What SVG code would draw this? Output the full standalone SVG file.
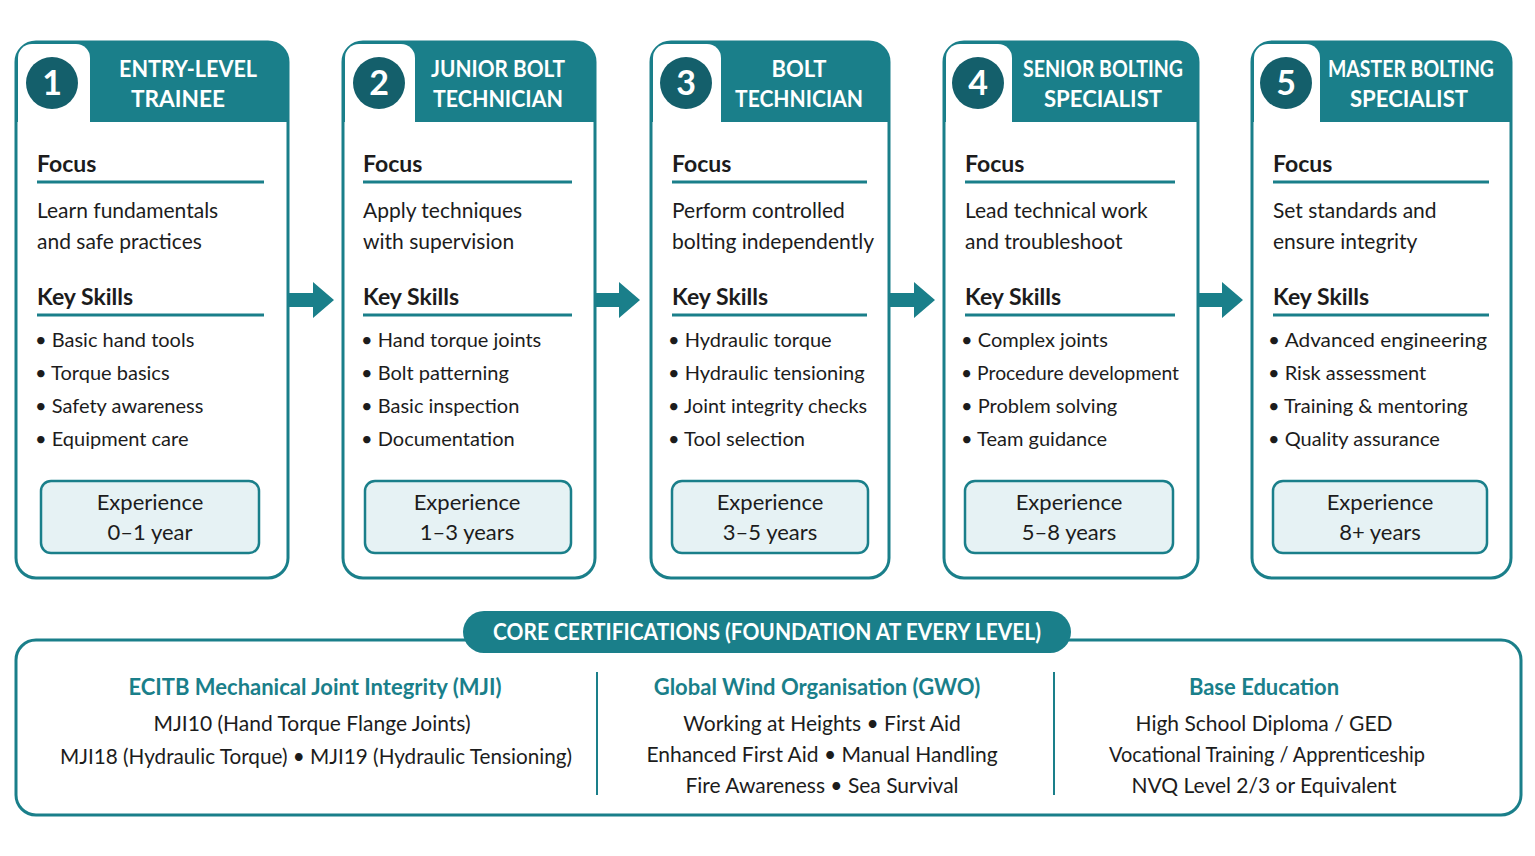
<svg xmlns="http://www.w3.org/2000/svg" width="1535" height="856" viewBox="0 0 1535 856">
<defs>
<style>
text{font-family:Lato,"Noto Sans","Liberation Sans",sans-serif;fill:#1c1c1c}
.card{fill:#fff;stroke:#1a7f8a;stroke-width:3}
.hd{fill:#1a7f8a}
.tab{fill:#fff}
.num{fill:#145f6b}
.numt{fill:#fff;font-size:34px;font-weight:bold;text-anchor:middle}
.ttl{fill:#fff;font-size:22px;font-weight:bold;text-anchor:middle}
.h{font-size:23px;font-weight:bold}
.rule{stroke:#1a7f8a;stroke-width:3}
.t{font-size:21px}
.b{font-size:20px}
.exp{fill:#e6f2f4;stroke:#1a7f8a;stroke-width:2.5}
.et{font-size:22px;text-anchor:middle}
.arr{fill:#1a7f8a}
.ct{fill:#1a7f8a;font-size:22px;font-weight:bold;text-anchor:middle}
.cl{font-size:21px;text-anchor:middle}
</style>
</defs>
<rect width="1535" height="856" fill="#fff"/>

<g id="card1">
<rect class="card" x="16" y="42" width="272" height="536" rx="20"/>
<path class="hd" d="M16,122 V62 a20,20 0 0 1 20,-20 H268 a20,20 0 0 1 20,20 V122 Z"/>
<rect class="tab" x="18" y="44" width="72" height="78" rx="14"/><rect class="tab" x="18" y="100" width="72" height="22"/>
<circle class="num" cx="52" cy="83" r="26"/><text class="numt" x="52" y="95">1</text>
<text class="ttl" x="188" y="77" textLength="138" lengthAdjust="spacingAndGlyphs">ENTRY-LEVEL</text><text class="ttl" x="178" y="107" textLength="94" lengthAdjust="spacingAndGlyphs">TRAINEE</text>
<text class="h" x="37" y="172">Focus</text><line class="rule" x1="37" y1="182" x2="264" y2="182"/>
<text class="t" x="37" y="218">Learn fundamentals</text><text class="t" x="37" y="249">and safe practices</text>
<text class="h" x="37" y="305">Key Skills</text><line class="rule" x1="37" y1="315" x2="264" y2="315"/>
<text class="b" x="35" y="347">•  Basic hand tools</text><text class="b" x="35" y="380">•  Torque basics</text>
<text class="b" x="35" y="413">•  Safety awareness</text><text class="b" x="35" y="446">•  Equipment care</text>
<rect class="exp" x="41" y="481" width="218" height="72" rx="10"/>
<text class="et" x="150" y="510">Experience</text><text class="et" x="150" y="540">0–1 year</text>
</g>

<g id="card2">
<rect class="card" x="343" y="42" width="252" height="536" rx="20"/>
<path class="hd" d="M343,122 V62 a20,20 0 0 1 20,-20 H575 a20,20 0 0 1 20,20 V122 Z"/>
<rect class="tab" x="345" y="44" width="70" height="78" rx="14"/><rect class="tab" x="345" y="100" width="70" height="22"/>
<circle class="num" cx="379" cy="83" r="26"/><text class="numt" x="379" y="95">2</text>
<text class="ttl" x="498" y="77" textLength="134" lengthAdjust="spacingAndGlyphs">JUNIOR BOLT</text><text class="ttl" x="498" y="107" textLength="130" lengthAdjust="spacingAndGlyphs">TECHNICIAN</text>
<text class="h" x="363" y="172">Focus</text><line class="rule" x1="363" y1="182" x2="572" y2="182"/>
<text class="t" x="363" y="218">Apply techniques</text><text class="t" x="363" y="249">with supervision</text>
<text class="h" x="363" y="305">Key Skills</text><line class="rule" x1="363" y1="315" x2="572" y2="315"/>
<text class="b" x="361" y="347">•  Hand torque joints</text><text class="b" x="361" y="380">•  Bolt patterning</text>
<text class="b" x="361" y="413">•  Basic inspection</text><text class="b" x="361" y="446">•  Documentation</text>
<rect class="exp" x="365" y="481" width="206" height="72" rx="10"/>
<text class="et" x="467" y="510">Experience</text><text class="et" x="467" y="540">1–3 years</text>
</g>

<g id="card3">
<rect class="card" x="651" y="42" width="238" height="536" rx="20"/>
<path class="hd" d="M651,122 V62 a20,20 0 0 1 20,-20 H869 a20,20 0 0 1 20,20 V122 Z"/>
<rect class="tab" x="653" y="44" width="68" height="78" rx="14"/><rect class="tab" x="653" y="100" width="68" height="22"/>
<circle class="num" cx="686" cy="83" r="26"/><text class="numt" x="686" y="95">3</text>
<text class="ttl" x="799" y="77">BOLT</text><text class="ttl" x="799" y="107" textLength="128" lengthAdjust="spacingAndGlyphs">TECHNICIAN</text>
<text class="h" x="672" y="172">Focus</text><line class="rule" x1="672" y1="182" x2="867" y2="182"/>
<text class="t" x="672" y="218">Perform controlled</text><text class="t" x="672" y="249" textLength="202" lengthAdjust="spacingAndGlyphs">bolting independently</text>
<text class="h" x="672" y="305">Key Skills</text><line class="rule" x1="672" y1="315" x2="867" y2="315"/>
<text class="b" x="668" y="347">•  Hydraulic torque</text><text class="b" x="668" y="380">•  Hydraulic tensioning</text>
<text class="b" x="668" y="413" textLength="199" lengthAdjust="spacingAndGlyphs">•  Joint integrity checks</text><text class="b" x="668" y="446">•  Tool selection</text>
<rect class="exp" x="672" y="481" width="196" height="72" rx="10"/>
<text class="et" x="770" y="510">Experience</text><text class="et" x="770" y="540">3–5 years</text>
</g>

<g id="card4">
<rect class="card" x="944" y="42" width="254" height="536" rx="20"/>
<path class="hd" d="M944,122 V62 a20,20 0 0 1 20,-20 H1178 a20,20 0 0 1 20,20 V122 Z"/>
<rect class="tab" x="946" y="44" width="66" height="78" rx="14"/><rect class="tab" x="946" y="100" width="66" height="22"/>
<circle class="num" cx="978" cy="83" r="26"/><text class="numt" x="978" y="95">4</text>
<text class="ttl" x="1103" y="77" textLength="160" lengthAdjust="spacingAndGlyphs">SENIOR BOLTING</text><text class="ttl" x="1103" y="107" textLength="118" lengthAdjust="spacingAndGlyphs">SPECIALIST</text>
<text class="h" x="965" y="172">Focus</text><line class="rule" x1="965" y1="182" x2="1175" y2="182"/>
<text class="t" x="965" y="218">Lead technical work</text><text class="t" x="965" y="249">and troubleshoot</text>
<text class="h" x="965" y="305">Key Skills</text><line class="rule" x1="965" y1="315" x2="1175" y2="315"/>
<text class="b" x="961" y="347">•  Complex joints</text><text class="b" x="961" y="380" textLength="218" lengthAdjust="spacingAndGlyphs">•  Procedure development</text>
<text class="b" x="961" y="413">•  Problem solving</text><text class="b" x="961" y="446">•  Team guidance</text>
<rect class="exp" x="965" y="481" width="208" height="72" rx="10"/>
<text class="et" x="1069" y="510">Experience</text><text class="et" x="1069" y="540">5–8 years</text>
</g>

<g id="card5">
<rect class="card" x="1252" y="42" width="259" height="536" rx="20"/>
<path class="hd" d="M1252,122 V62 a20,20 0 0 1 20,-20 H1491 a20,20 0 0 1 20,20 V122 Z"/>
<rect class="tab" x="1254" y="44" width="66" height="78" rx="14"/><rect class="tab" x="1254" y="100" width="66" height="22"/>
<circle class="num" cx="1286" cy="83" r="26"/><text class="numt" x="1286" y="95">5</text>
<text class="ttl" x="1411" y="77" textLength="166" lengthAdjust="spacingAndGlyphs">MASTER BOLTING</text><text class="ttl" x="1409" y="107" textLength="118" lengthAdjust="spacingAndGlyphs">SPECIALIST</text>
<text class="h" x="1273" y="172">Focus</text><line class="rule" x1="1273" y1="182" x2="1489" y2="182"/>
<text class="t" x="1273" y="218">Set standards and</text><text class="t" x="1273" y="249">ensure integrity</text>
<text class="h" x="1273" y="305">Key Skills</text><line class="rule" x1="1273" y1="315" x2="1489" y2="315"/>
<text class="b" x="1268" y="347" textLength="219" lengthAdjust="spacingAndGlyphs">•  Advanced engineering</text><text class="b" x="1268" y="380">•  Risk assessment</text>
<text class="b" x="1268" y="413">•  Training &amp; mentoring</text><text class="b" x="1268" y="446">•  Quality assurance</text>
<rect class="exp" x="1273" y="481" width="214" height="72" rx="10"/>
<text class="et" x="1380" y="510">Experience</text><text class="et" x="1380" y="540">8+ years</text>
</g>

<g id="connectors">
<path class="arr" d="M288,293 H313 V282 L334,300 L313,318 V307 H288 Z"/>
<path class="arr" d="M595,293 H619 V282 L640,300 L619,318 V307 H595 Z"/>
<path class="arr" d="M889,293 H914 V282 L935,300 L914,318 V307 H889 Z"/>
<path class="arr" d="M1198,293 H1222 V282 L1243,300 L1222,318 V307 H1198 Z"/>
</g>

<g id="certifications">
<rect x="16" y="640" width="1505" height="175" rx="20" fill="#fff" stroke="#1a7f8a" stroke-width="3"/>
<rect x="463" y="611" width="608" height="42" rx="21" fill="#1a7f8a"/>
<text x="767" y="640" text-anchor="middle" font-size="22" font-weight="bold" style="fill:#fff" textLength="548" lengthAdjust="spacingAndGlyphs">CORE CERTIFICATIONS (FOUNDATION AT EVERY LEVEL)</text>
<line x1="597" y1="672" x2="597" y2="795" stroke="#1a7f8a" stroke-width="2"/>
<line x1="1054" y1="672" x2="1054" y2="795" stroke="#1a7f8a" stroke-width="2"/>
<text class="ct" x="315" y="695">ECITB Mechanical Joint Integrity (MJI)</text>
<text class="cl" x="312" y="731">MJI10 (Hand Torque Flange Joints)</text>
<text class="cl" x="316" y="764" textLength="512" lengthAdjust="spacingAndGlyphs">MJI18 (Hydraulic Torque)  •  MJI19 (Hydraulic Tensioning)</text>
<text class="ct" x="817" y="695">Global Wind Organisation (GWO)</text>
<text class="cl" x="822" y="731">Working at Heights  •  First Aid</text>
<text class="cl" x="822" y="762">Enhanced First Aid  •  Manual Handling</text>
<text class="cl" x="822" y="793">Fire Awareness  •  Sea Survival</text>
<text class="ct" x="1264" y="695">Base Education</text>
<text class="cl" x="1264" y="731">High School Diploma / GED</text>
<text class="cl" x="1267" y="762" textLength="316" lengthAdjust="spacingAndGlyphs">Vocational Training / Apprenticeship</text>
<text class="cl" x="1264" y="793">NVQ Level 2/3 or Equivalent</text>
</g>
</svg>
